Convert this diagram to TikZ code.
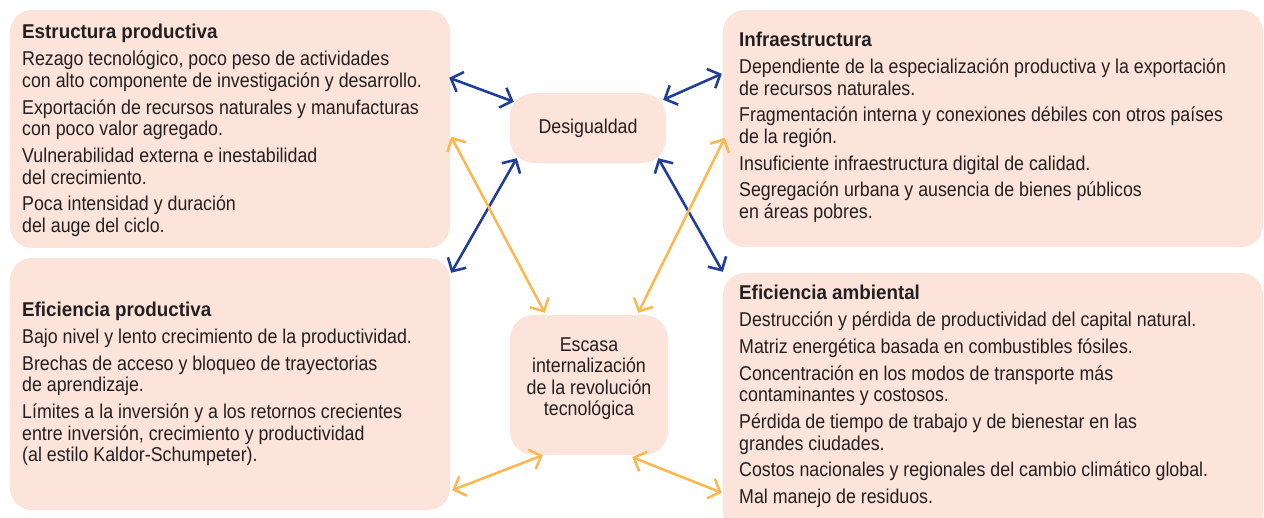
\documentclass[tikz,border=0pt]{standalone}
\usepackage{fontspec}
\setmainfont{Liberation Sans}[FakeStretch=0.89, BoldFeatures={FakeStretch=0.94}]
\usetikzlibrary{arrows.meta,calc}
\definecolor{boxfill}{HTML}{FCE4DA}
\definecolor{arrblue}{HTML}{213F99}
\definecolor{arrorange}{HTML}{FDB74E}
\definecolor{txt}{HTML}{231F20}
\tikzset{
  bigbox/.style={fill=boxfill, draw=none, rounded corners=22pt, inner sep=0pt},
  midbox/.style={fill=boxfill, draw=none, rounded corners=24pt, inner sep=0pt, text=txt,
    font=\fontsize{20}{21.7}\selectfont},
  bodytext/.style={anchor=base west, inner sep=0pt, text=txt},
  barb/.tip={Straight Barb[length=10pt,width=21pt]},
  bluelink/.style={draw=arrblue, line width=2.6pt, barb-barb},
  orangelink/.style={draw=arrorange, line width=2.5pt, barb-barb}
}
\newcommand{\boxtext}[1]{\parbox[t]{530pt}{\fontsize{20}{21.7}\selectfont\raggedright #1}}
\begin{document}
\begin{tikzpicture}[x=1pt,y=1pt]
\useasboundingbox (0,0) rectangle (1264,517);
% boxes
\node[bigbox, minimum width=440pt, minimum height=238pt] (b1) at (230,388) {};
\node[bigbox, minimum width=440pt, minimum height=252pt] (b2) at (230,133) {};
\node[bigbox, minimum width=540pt, minimum height=237pt] (b3) at (993,388.5) {};
\node[bigbox, minimum width=540pt, minimum height=262pt] (b4) at (993,113) {};
\node[midbox, minimum width=156pt, minimum height=70pt] (d) at (588,389) {Desigualdad};
\node[midbox, minimum width=158pt, minimum height=140pt] (e) at (589,132) {};
% texts
\node[bodytext] (t1) at (22,478) {\boxtext{\textbf{Estructura productiva}\\[5pt]
Rezago tecnológico, poco peso de actividades\\
con alto componente de investigación y desarrollo.\\[5pt]
Exportación de recursos naturales y manufacturas\\
con poco valor agregado.\\[5pt]
Vulnerabilidad externa e inestabilidad\\
del crecimiento.\\[5pt]
Poca intensidad y duración\\
del auge del ciclo.}};
\node[bodytext] (t2) at (22,200.3) {\boxtext{\textbf{Eficiencia productiva}\\[5pt]
Bajo nivel y lento crecimiento de la productividad.\\[5pt]
Brechas de acceso y bloqueo de trayectorias\\
de aprendizaje.\\[5pt]
Límites a la inversión y a los retornos crecientes\\
entre inversión, crecimiento y productividad\\
(al estilo Kaldor-Schumpeter).}};
\node[bodytext] (t3) at (739,470.3) {\boxtext{\textbf{Infraestructura}\\[5pt]
Dependiente de la especialización productiva y la exportación\\
de recursos naturales.\\[5pt]
Fragmentación interna y conexiones débiles con otros países\\
de la región.\\[5pt]
Insuficiente infraestructura digital de calidad.\\[5pt]
Segregación urbana y ausencia de bienes públicos\\
en áreas pobres.}};
\node[bodytext] (t4) at (739,217) {\boxtext{\textbf{Eficiencia ambiental}\\[5pt]
Destrucción y pérdida de productividad del capital natural.\\[5pt]
Matriz energética basada en combustibles fósiles.\\[5pt]
Concentración en los modos de transporte más\\
contaminantes y costosos.\\[5pt]
Pérdida de tiempo de trabajo y de bienestar en las\\
grandes ciudades.\\[5pt]
Costos nacionales y regionales del cambio climático global.\\[5pt]
Mal manejo de residuos.}};
\node[anchor=base, inner sep=0pt, text=txt] (et) at (589,165.3)
  {\parbox[t]{156pt}{\fontsize{20}{21.2}\selectfont\centering Escasa\\ internalización\\ de la revolución\\ tecnológica}};
% blue connectors
\draw[bluelink] ($(b1.north east)+(-1,-68)$) -- ($(d.north west)+(4,-9)$);
\draw[bluelink] ($(b3.north west)+(-1,-64)$) -- ($(d.north east)+(-3,-7)$);
\draw[bluelink] ($(d.south west)+(7,5)$) -- ($(b2.north east)+(1,-15)$);
\draw[bluelink] ($(d.south east)+(-8,5)$) -- ($(b4.north west)+(0,1)$);
% orange connectors
\draw[orangelink] ($(b1.north east)+(1,-127)$) -- ($(e.north west)+(35,2)$);
\draw[orangelink] ($(b3.north west)+(2,-128)$) -- ($(e.north east)+(-30,2)$);
\draw[orangelink] ($(e.south west)+(33,0)$) -- ($(b2.south east)+(2,20)$);
\draw[orangelink] ($(e.south east)+(-36,-2)$) -- ($(b4.north west)+(-1,-220)$);
\end{tikzpicture}
\end{document}
